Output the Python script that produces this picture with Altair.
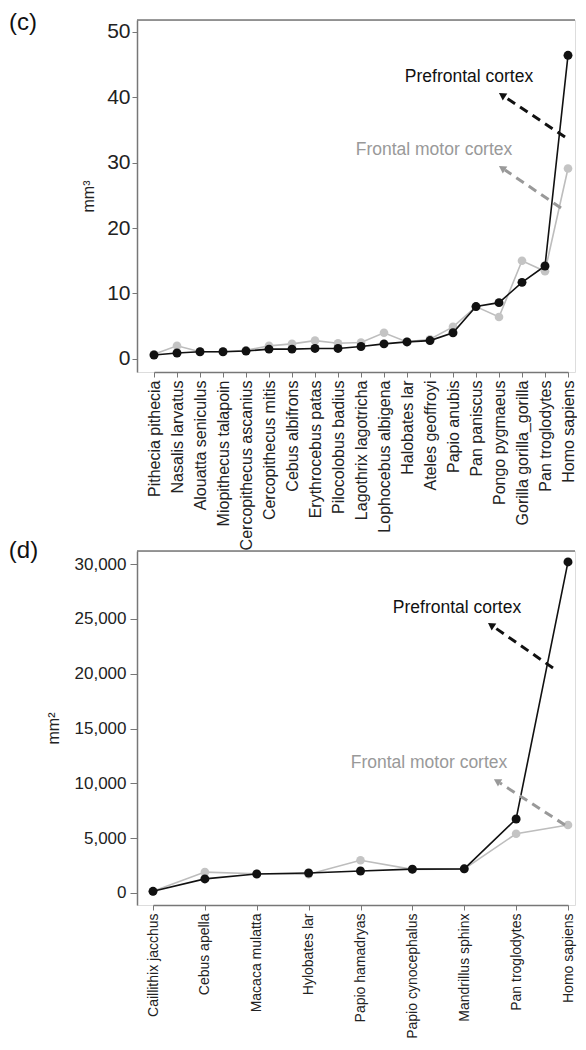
import altair as alt
import pandas as pd

FONT = "Liberation Sans, Arial, sans-serif"

species_c = [
    "Pithecia pithecia", "Nasalis larvatus", "Alouatta seniculus", "Miopithecus talapoin",
    "Cercopithecus ascanius", "Cercopithecus mitis", "Cebus albifrons", "Erythrocebus patas",
    "Pilocolobus badius", "Lagothrix lagotricha", "Lophocebus albigena", "Halobates lar",
    "Ateles geoffroyi", "Papio anubis", "Pan paniscus", "Pongo pygmaeus",
    "Gorilla gorilla_gorilla", "Pan troglodytes", "Homo sapiens",
]
prefrontal_c = [0.6, 0.9, 1.1, 1.1, 1.2, 1.5, 1.5, 1.6, 1.6, 1.9, 2.3, 2.6, 2.8, 4.0, 8.0, 8.6, 11.7, 14.2, 46.4]
motor_c = [0.7, 2.0, 1.1, 1.1, 1.3, 2.0, 2.3, 2.8, 2.4, 2.5, 4.0, 2.6, 3.0, 4.9, 8.0, 6.4, 15.0, 13.4, 29.1]
yticks_c = [0, 10, 20, 30, 40, 50]

species_d = [
    "Caillithix jacchus", "Cebus apella", "Macaca mulatta", "Hylobates lar",
    "Papio hamadryas", "Papio cynocephalus", "Mandrillus sphinx", "Pan troglodytes", "Homo sapiens",
]
prefrontal_d = [150, 1280, 1730, 1820, 2000, 2170, 2200, 6750, 30200]
motor_d = [150, 1900, 1750, 1700, 2980, 2150, 2200, 5400, 6200]
yticks_d = [0, 5000, 10000, 15000, 20000, 25000, 30000]

W = 438


def long_df(species, pf, mc):
    rows = []
    for s, v in zip(species, mc):
        rows.append({"species": s, "value": v, "series": "Frontal motor cortex"})
    for s, v in zip(species, pf):
        rows.append({"species": s, "value": v, "series": "Prefrontal cortex"})
    return pd.DataFrame(rows)


def panel(species, pf, mc, ydomain, yticks, ytitle, label, label_pos, height, xrange, fmt, ann,
          xfs, yfs, ytp, ylp, ytick):
    df = long_df(species, pf, mc)
    x = alt.X("species:N", sort=species,
              scale=alt.Scale(type="point", range=xrange, padding=0),
              axis=alt.Axis(title=None, labelAngle=-90, labelAlign="right", labelBaseline="middle",
                            labelFontSize=xfs, labelColor="#222", labelFont=FONT, labelPadding=3,
                            domainColor="#777", domainWidth=1.5, tickColor="#777", tickSize=5,
                            labelLimit=300))
    y = alt.Y("value:Q", scale=alt.Scale(domain=ydomain, nice=False, zero=False),
              axis=alt.Axis(title=ytitle, values=yticks, format=fmt, grid=False,
                            labelFontSize=yfs, labelColor="#222", labelFont=FONT, labelPadding=ylp,
                            titleFont=FONT, titleFontSize=16, titleFontWeight="normal",
                            titleColor="#222", titlePadding=ytp,
                            domainColor="#777", domainWidth=1.5, tickColor="#777", tickSize=ytick))
    base = alt.Chart(df)
    motor = base.transform_filter(alt.datum.series == "Frontal motor cortex")
    pref = base.transform_filter(alt.datum.series == "Prefrontal cortex")
    motor_line = motor.mark_line(strokeWidth=1.6, color="#bdbdbd").encode(x=x, y=y)
    motor_pts = motor.mark_circle(size=75, opacity=1, color="#c4c4c4").encode(x=x, y=y)
    pf_line = pref.mark_line(strokeWidth=1.6, color="#111").encode(x=x, y=y)
    pf_pts = pref.mark_circle(size=80, opacity=1, color="#111").encode(x=x, y=y)

    one = alt.Chart(pd.DataFrame({"a": [0]}))
    top = one.mark_rule(color="#777", strokeWidth=1.5).encode(
        x=alt.value(0), x2=alt.value(W), y=alt.value(0))
    lab = one.mark_text(text=label, font=FONT, fontSize=24, color="#111", align="center",
                        baseline="middle").encode(x=alt.value(label_pos[0]), y=alt.value(label_pos[1]))

    layers = [top, motor_line, motor_pts, pf_line, pf_pts, lab]
    for (txt, col, tpos, start, end, ang) in ann:
        layers.append(one.mark_text(text=txt, font=FONT, fontSize=17.5, color=col, align="center",
                                    baseline="middle").encode(x=alt.value(tpos[0]), y=alt.value(tpos[1])))
        layers.append(one.mark_rule(color=col, strokeWidth=3, strokeDash=[9, 6]).encode(
            x=alt.value(start[0]), y=alt.value(start[1]), x2=alt.value(end[0] + 6), y2=alt.value(end[1] + 4)))
        layers.append(one.mark_point(shape="triangle-up", filled=True, size=70, color=col, opacity=1,
                                     angle=ang).encode(x=alt.value(end[0] + 3), y=alt.value(end[1] + 2)))
    return alt.layer(*layers).properties(width=W, height=height)


ann_c = [
    ("Prefrontal cortex", "#111", (332, 57), (428, 117), (362, 73), 303),
    ("Frontal motor cortex", "#999", (297, 130), (424, 188), (362, 146), 303),
]
c = panel(species_c, prefrontal_c, motor_c, [-2, 51.8], yticks_c, "mm³", "(c)", (-114, 2.5),
          352, [17, 431], "d", ann_c, 16, 21, 10, 2, 5)

ann_d = [
    ("Prefrontal cortex", "#111", (320, 57), (416, 117), (351, 72), 304),
    ("Frontal motor cortex", "#999", (292, 212), (428, 274), (357, 228), 301),
]
d = panel(species_d, prefrontal_d, motor_d, [-1100, 31200], yticks_d, "mm²", "(d)", (-113.5, 0),
          354, [16, 431], ",d", ann_d, 14, 17, 13, 4, 7)

chart = alt.vconcat(c, d, spacing=179, bounds="flush").properties(
    padding={"left": 0, "top": 2, "right": 0, "bottom": 0}
).configure_view(stroke=None).configure(font=FONT)

chart.save("out.html", embed_options={"renderer": "svg", "actions": False})
